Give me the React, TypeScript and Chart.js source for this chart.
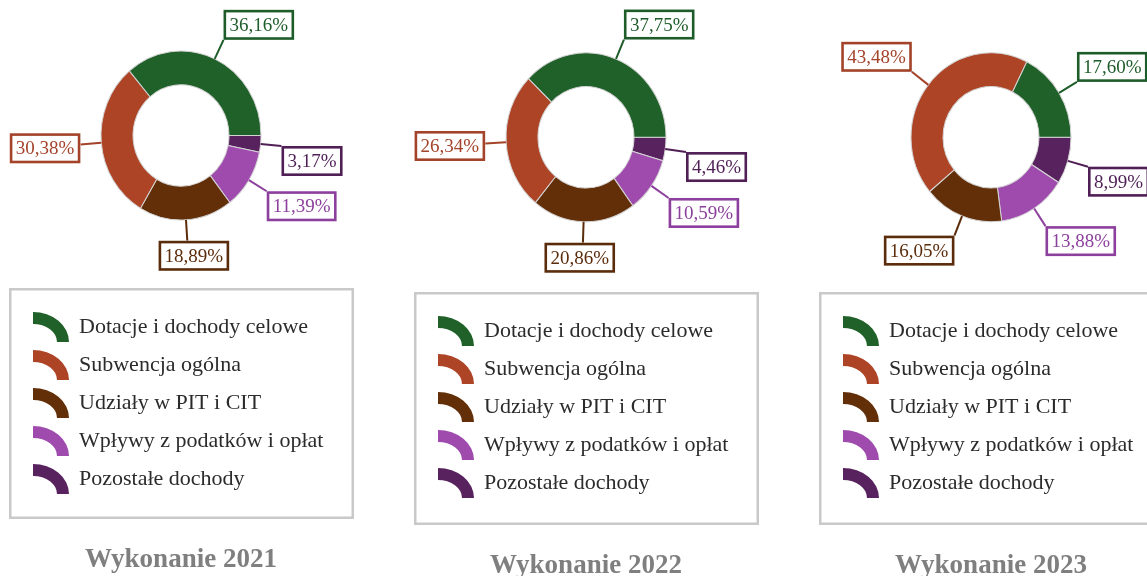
import React, { useEffect, useRef } from 'react';
import { Chart, registerables } from 'chart.js';

Chart.register(...registerables);

// ---------- data ----------
const categories = [
  'Dotacje i dochody celowe',
  'Subwencja ogólna',
  'Udziały w PIT i CIT',
  'Wpływy z podatków i opłat',
  'Pozostałe dochody',
];
const years = ['2021', '2022', '2023'];
const values2021 = [36.16, 30.38, 18.89, 11.39, 3.17];
const values2022 = [37.75, 26.34, 20.86, 10.59, 4.46];
const values2023 = [17.6, 43.48, 16.05, 13.88, 8.99];
const seriesByYear = [values2021, values2022, values2023];
const titles = years.map((y) => `Wykonanie ${y}`);

// ---------- styles ----------
const sliceColors = ['#1F6129', '#AD4426', '#632F08', '#9F4BAE', '#58225F'];
const labelColors = ['#1E5C29', '#A3432A', '#5B2C0B', '#8C3F9C', '#4F1F56'];
const SERIF = '"Liberation Serif", "Times New Roman", Times, serif';

const PANEL_W = 405;
const PANEL_H = 576;
const CX = 181;
const RX = 80;
const STRETCH = 1.056;
const LEADER = 21;
const panelLayouts = [
  { cy: 135.5, boxTop: 288, boxBottom: 519, titleY: 567 },
  { cy: 137.3, boxTop: 292, boxBottom: 525, titleY: 573 },
  { cy: 137.3, boxTop: 292, boxBottom: 525, titleY: 573 },
];

function fmt(v: number) {
  return v.toFixed(2).replace('.', ',') + '%';
}

const clamp = (v: number) => Math.max(-1, Math.min(1, v));

function Panel({ values, title, layout }: { values: number[]; title: string; layout: any }) {
  const ref = useRef<HTMLCanvasElement | null>(null);

  useEffect(() => {
    const order = values.map((_, i) => i).reverse();

    const decor = {
      id: 'decor',
      beforeDatasetsDraw(chart: any) {
        const ctx = chart.ctx;
        const arc = chart.getDatasetMeta(0).data[0];
        ctx.save();
        ctx.translate(arc.x, arc.y);
        ctx.scale(1, STRETCH);
        ctx.translate(-arc.x, -arc.y);
      },
      afterDatasetsDraw(chart: any) {
        chart.ctx.restore();
      },
      afterDraw(chart: any) {
        const ctx = chart.ctx as CanvasRenderingContext2D;
        const meta = chart.getDatasetMeta(0);
        ctx.save();

        // callout labels
        meta.data.forEach((arc: any, j: number) => {
          const idx = order[j];
          const a = (arc.startAngle + arc.endAngle) / 2;
          const c = Math.cos(a);
          const s = Math.sin(a);
          const rx = arc.outerRadius;
          const ry = arc.outerRadius * STRETCH;
          const x0 = arc.x + rx * c;
          const y0 = arc.y + ry * s;
          const x1 = arc.x + (rx + LEADER) * c;
          const y1 = arc.y + (ry + LEADER) * s;
          const text = fmt(values[idx]);
          ctx.font = `19px ${SERIF}`;
          const w = ctx.measureText(text).width + 12;
          const h = 30;
          const sx = clamp(3 * c);
          const sy = c > 0 ? Math.sign(s) : clamp(3 * s);
          const bx = x1 + (w / 2) * sx;
          const by = y1 + (h / 2) * sy;
          const col = labelColors[idx];

          ctx.strokeStyle = col;
          ctx.lineWidth = 2;
          ctx.beginPath();
          ctx.moveTo(x0, y0);
          ctx.lineTo(x1, y1);
          ctx.stroke();

          ctx.fillStyle = '#ffffff';
          ctx.fillRect(bx - w / 2, by - h / 2, w, h);
          ctx.lineWidth = 2.6;
          ctx.strokeRect(bx - w / 2 + 1.3, by - h / 2 + 1.3, w - 2.6, h - 2.6);
          ctx.fillStyle = col;
          ctx.textAlign = 'center';
          ctx.textBaseline = 'middle';
          ctx.fillText(text, bx, by + 1);
        });

        // legend box
        const left = 9;
        const right = 354;
        ctx.strokeStyle = '#c9c9c9';
        ctx.lineWidth = 2.5;
        ctx.strokeRect(left + 1.25, layout.boxTop + 1.25, right - left - 2.5, layout.boxBottom - layout.boxTop - 2.5);

        categories.forEach((name, k) => {
          const yc = layout.boxTop + 39 + 38 * k;
          // arc-shaped legend key
          const ex = 33;
          const ey = yc + 15;
          ctx.fillStyle = sliceColors[k];
          ctx.beginPath();
          ctx.ellipse(ex, ey, 36, 30, 0, -Math.PI / 2, 0, false);
          ctx.ellipse(ex, ey, 24, 18, 0, 0, -Math.PI / 2, true);
          ctx.closePath();
          ctx.fill();

          ctx.fillStyle = '#2b2b2b';
          ctx.font = `22px ${SERIF}`;
          ctx.textAlign = 'left';
          ctx.textBaseline = 'middle';
          ctx.fillText(name, 79, yc);
        });

        // title
        ctx.fillStyle = '#7f7f7f';
        ctx.font = `bold 27px ${SERIF}`;
        ctx.textAlign = 'center';
        ctx.textBaseline = 'alphabetic';
        ctx.fillText(title, CX, layout.titleY);

        ctx.restore();
      },
    };

    const chart = new Chart(ref.current as HTMLCanvasElement, {
      type: 'doughnut',
      data: {
        labels: order.map((i) => categories[i]),
        datasets: [
          {
            data: order.map((i) => values[i]),
            backgroundColor: order.map((i) => sliceColors[i]),
            borderColor: '#d4d4d4',
            borderWidth: 1,
            clip: false,
          } as any,
        ],
      },
      options: {
        responsive: false,
        animation: false,
        events: [],
        rotation: 90,
        radius: RX,
        cutout: '60%',
        layout: {
          padding: {
            left: CX - 100,
            right: PANEL_W - CX - 100,
            top: layout.cy - 100,
            bottom: PANEL_H - layout.cy - 100,
          },
        },
        plugins: {
          legend: { display: false },
          tooltip: { enabled: false },
        },
      } as any,
      plugins: [decor],
    });
    return () => chart.destroy();
  }, [values, title, layout]);

  return <canvas ref={ref} width={PANEL_W} height={PANEL_H} style={{ display: 'block' }} />;
}

export default function App() {
  return (
    <div
      style={{
        position: 'fixed',
        left: 0,
        top: 0,
        width: 1147,
        height: 576,
        overflow: 'hidden',
        background: '#ffffff',
      }}
    >
      {seriesByYear.map((vals, i) => (
        <div
          key={years[i]}
          style={{ position: 'absolute', left: PANEL_W * i, top: 0, width: PANEL_W, height: PANEL_H }}
        >
          <Panel values={vals} title={titles[i]} layout={panelLayouts[i]} />
        </div>
      ))}
    </div>
  );
}
